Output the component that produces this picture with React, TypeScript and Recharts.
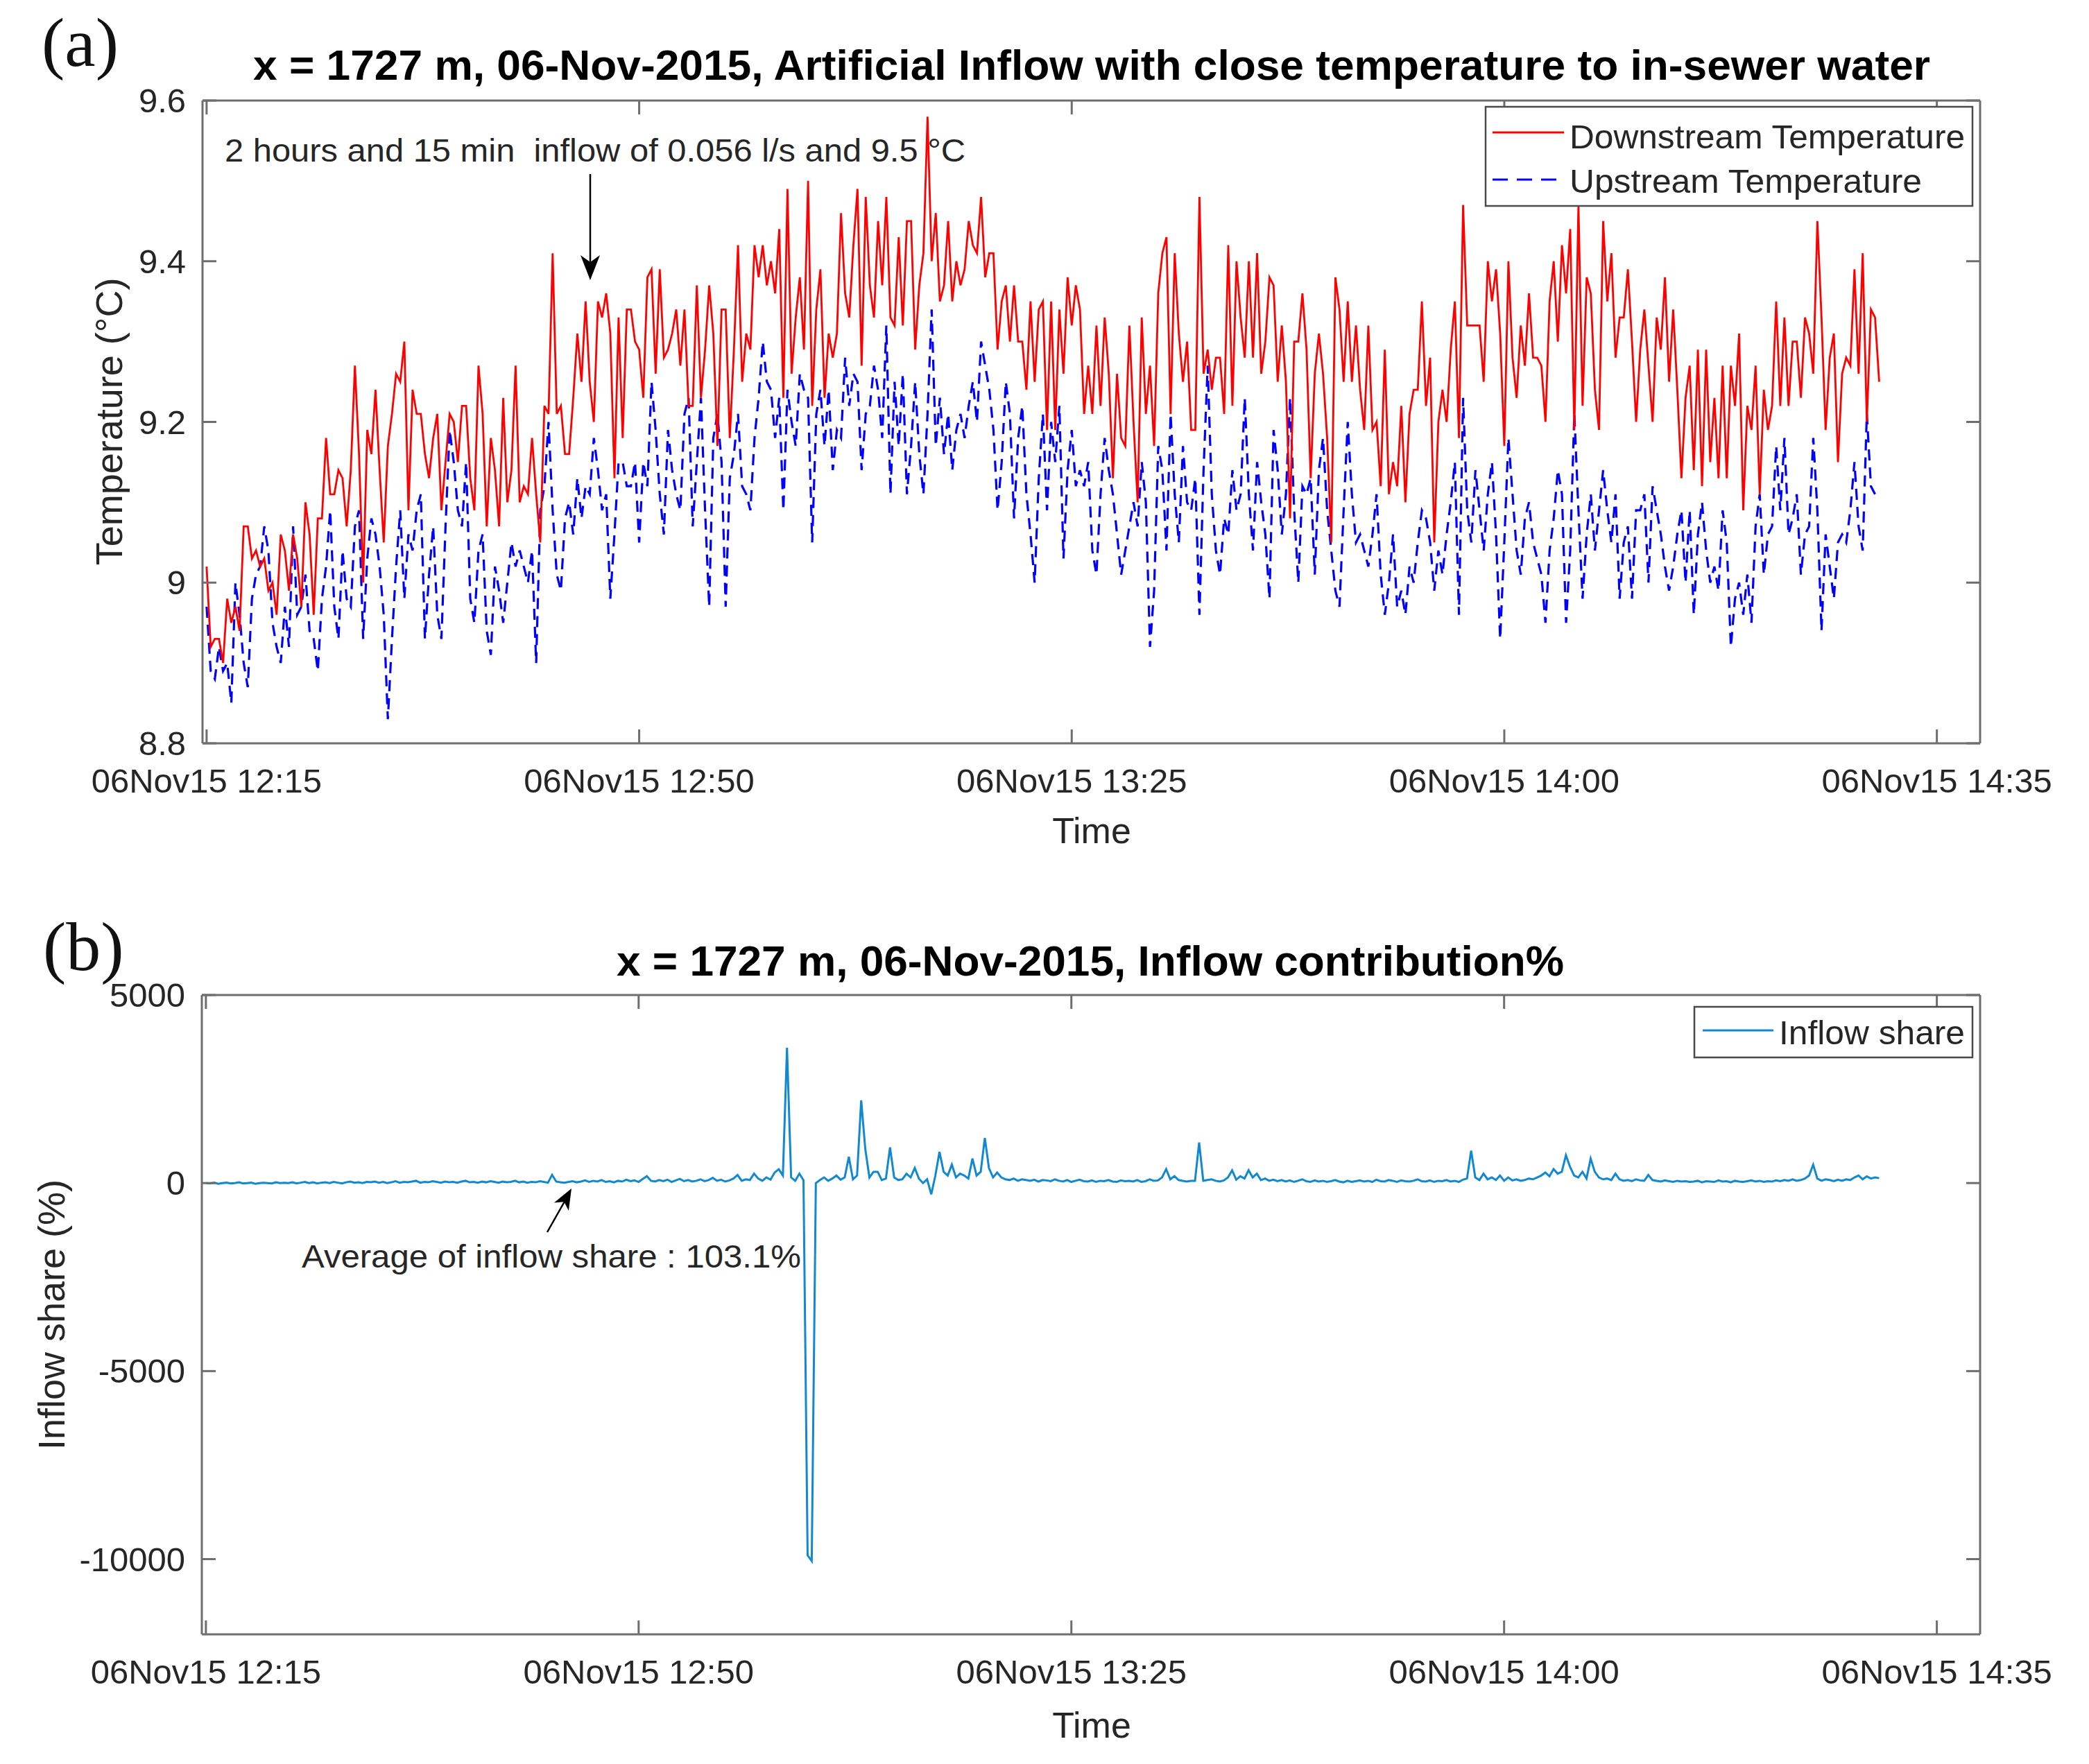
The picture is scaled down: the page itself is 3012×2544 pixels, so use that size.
import React from 'react';
import { LineChart, Line, XAxis, YAxis } from 'recharts';

// ---------- axis ticks / labels ----------
const timeTicks = [0, 35, 70, 105, 140]; // minutes after 12:15
const timeTickLabels = ['06Nov15 12:15', '06Nov15 12:50', '06Nov15 13:25', '06Nov15 14:00', '06Nov15 14:35'];
const timeDomain: [number, number] = [-0.33, 143.5];
const sampleStepMin = 1 / 3; // one sample every 20 s

const tempTicks = [8.8, 9, 9.2, 9.4, 9.6];
const tempTickLabels = ['8.8', '9', '9.2', '9.4', '9.6'];
const tempDomain: [number, number] = [8.8, 9.6];

const shareTicks = [-10000, -5000, 0, 5000];
const shareTickLabels = ['-10000', '-5000', '0', '5000'];
const shareDomain: [number, number] = [-12000, 5000];

// ---------- Downstream temperature (°C), 20 s samples ----------
const downstream1215 = [
  9.02, 8.92, 8.93, 8.93, 8.90, 8.98, 8.95, 8.97, 8.94, 9.07,
  9.07, 9.03, 9.04, 9.02, 9.03, 8.99, 9.00, 8.96, 9.06, 9.04,
  8.99, 9.06, 9.03, 8.97, 9.10, 9.06, 8.96, 9.08, 9.08, 9.18,
  9.11, 9.11, 9.14, 9.13, 9.07, 9.14, 9.27, 9.16, 9.00, 9.19,
  9.16, 9.24, 9.14, 9.05, 9.17, 9.21, 9.26, 9.25, 9.30, 9.09,
  9.24, 9.21, 9.21, 9.16, 9.13, 9.18, 9.21, 9.09, 9.15, 9.21,
  9.20, 9.15, 9.22, 9.22, 9.13, 9.09, 9.27, 9.21, 9.07, 9.18,
  9.14, 9.07, 9.23, 9.10, 9.14, 9.27, 9.10, 9.12, 9.11, 9.18,
  9.11, 9.05, 9.22, 9.21, 9.41, 9.21, 9.22, 9.16, 9.16, 9.23,
  9.31, 9.25, 9.35, 9.25, 9.20, 9.35, 9.33, 9.36, 9.31, 9.13,
  9.33, 9.18, 9.34,
];
const downstream1249 = [
  9.34, 9.30, 9.29, 9.23, 9.38, 9.39, 9.26, 9.39, 9.28, 9.29,
  9.31, 9.34, 9.27, 9.34, 9.22, 9.22, 9.37, 9.23, 9.29, 9.37,
  9.31, 9.17, 9.34, 9.34, 9.18, 9.29, 9.42, 9.25, 9.31, 9.29,
  9.42, 9.38, 9.42, 9.37, 9.40, 9.36, 9.44, 9.23, 9.49, 9.26,
  9.33, 9.38, 9.29, 9.50, 9.22, 9.34, 9.39, 9.23, 9.31, 9.28,
  9.31, 9.46, 9.36, 9.33, 9.42, 9.49, 9.27, 9.48, 9.37, 9.33,
  9.45, 9.37, 9.48, 9.33, 9.32, 9.43, 9.32, 9.45, 9.45, 9.29,
  9.37, 9.41, 9.58, 9.40, 9.46, 9.35, 9.37, 9.45, 9.35, 9.40,
  9.37, 9.39, 9.45, 9.42, 9.41, 9.48, 9.38, 9.41, 9.41, 9.29,
  9.35, 9.37, 9.30, 9.37, 9.30, 9.30, 9.24, 9.35, 9.25, 9.34,
  9.35, 9.19,
];
const downstream1323 = [
  9.35, 9.19, 9.34, 9.26, 9.38, 9.32, 9.37, 9.34, 9.21, 9.27,
  9.21, 9.32, 9.22, 9.33, 9.26, 9.13, 9.26, 9.18, 9.17, 9.32,
  9.20, 9.10, 9.33, 9.21, 9.27, 9.17, 9.36, 9.41, 9.43, 9.21,
  9.41, 9.31, 9.25, 9.30, 9.19, 9.19, 9.48, 9.26, 9.29, 9.24,
  9.28, 9.28, 9.21, 9.42, 9.22, 9.40, 9.33, 9.28, 9.40, 9.28,
  9.41, 9.26, 9.30, 9.38, 9.37, 9.25, 9.32, 9.25, 9.08, 9.30,
  9.30, 9.36, 9.29, 9.13, 9.26, 9.31, 9.26, 9.18, 9.05, 9.38,
  9.34, 9.25, 9.35, 9.25, 9.32, 9.24, 9.19, 9.32, 9.19, 9.20,
  9.12, 9.29, 9.11, 9.15, 9.12, 9.22, 9.10, 9.21, 9.24, 9.24,
  9.35, 9.22, 9.28, 9.05, 9.20, 9.24, 9.20, 9.29, 9.35, 9.18,
  9.47, 9.32, 9.32,
];
const downstream1357 = [
  9.32, 9.32, 9.25, 9.40, 9.35, 9.39, 9.31, 9.17, 9.40, 9.28,
  9.23, 9.32, 9.27, 9.36, 9.28, 9.28, 9.27, 9.20, 9.35, 9.40,
  9.30, 9.42, 9.36, 9.44, 9.19, 9.47, 9.22, 9.38, 9.36, 9.24,
  9.19, 9.45, 9.35, 9.41, 9.28, 9.33, 9.33, 9.39, 9.30, 9.20,
  9.29, 9.34, 9.27, 9.20, 9.33, 9.29, 9.38, 9.25, 9.34, 9.24,
  9.13, 9.23, 9.27, 9.14, 9.29, 9.12, 9.29, 9.15, 9.23, 9.13,
  9.27, 9.13, 9.27, 9.22, 9.31, 9.09, 9.22, 9.19, 9.27, 9.11,
  9.24, 9.19, 9.22, 9.35, 9.22, 9.33, 9.22, 9.30, 9.30, 9.23,
  9.33, 9.31, 9.26, 9.45, 9.33, 9.19, 9.28, 9.31, 9.15, 9.26,
  9.28, 9.27, 9.39, 9.26, 9.41, 9.20, 9.34, 9.33, 9.25,
];

// ---------- Upstream temperature (°C), 20 s samples ----------
const upstream1215 = [
  8.97, 8.89, 8.88, 8.92, 8.89, 8.90, 8.85, 9.00, 8.96, 8.90,
  8.87, 8.98, 9.01, 9.02, 9.07, 9.04, 8.95, 8.92, 8.90, 8.97,
  8.92, 9.07, 8.96, 8.97, 9.01, 8.94, 8.93, 8.89, 8.98, 9.02,
  9.09, 8.97, 8.93, 9.04, 8.98, 8.97, 9.07, 9.09, 8.93, 9.03,
  9.08, 9.06, 9.02, 8.96, 8.83, 8.93, 9.02, 9.09, 8.98, 9.06,
  9.04, 9.09, 9.11, 8.93, 9.01, 9.07, 8.96, 8.93, 9.07, 9.19,
  9.15, 9.09, 9.07, 9.15, 8.98, 8.95, 9.04, 9.06, 8.94, 8.91,
  9.02, 8.99, 8.95, 9.00, 9.05, 9.02, 9.04, 9.02, 9.00, 9.04,
  8.90, 9.09, 9.12, 9.20, 9.09, 9.01, 8.99, 9.08, 9.10, 9.06,
  9.13, 9.08, 9.12, 9.11, 9.18, 9.14, 9.09, 9.11, 8.98, 9.06,
  9.15, 9.15, 9.12,
];
const upstream1249 = [
  9.12, 9.15, 9.05, 9.15, 9.12, 9.25, 9.19, 9.11, 9.06, 9.19,
  9.14, 9.11, 9.09, 9.21, 9.23, 9.07, 9.15, 9.23, 9.09, 8.97,
  9.18, 9.21, 9.15, 8.97, 9.13, 9.16, 9.21, 9.12, 9.11, 9.09,
  9.18, 9.23, 9.30, 9.25, 9.24, 9.18, 9.23, 9.09, 9.24, 9.20,
  9.17, 9.26, 9.24, 9.23, 9.05, 9.21, 9.24, 9.17, 9.24, 9.14,
  9.19, 9.18, 9.28, 9.22, 9.26, 9.25, 9.14, 9.21, 9.22, 9.27,
  9.24, 9.18, 9.32, 9.11, 9.25, 9.17, 9.26, 9.11, 9.17, 9.25,
  9.16, 9.11, 9.21, 9.34, 9.17, 9.23, 9.16, 9.21, 9.14, 9.19,
  9.21, 9.18, 9.22, 9.25, 9.20, 9.30, 9.27, 9.24, 9.19, 9.09,
  9.15, 9.25, 9.21, 9.08, 9.18, 9.22, 9.11, 9.06, 9.00, 9.13,
  9.21, 9.09,
];
const upstream1323 = [
  9.20, 9.15, 9.22, 9.03, 9.14, 9.19, 9.12, 9.14, 9.12, 9.15,
  9.04, 9.01, 9.11, 9.18, 9.14, 9.11, 9.06, 9.01, 9.04, 9.07,
  9.10, 9.07, 9.15, 9.10, 8.92, 8.99, 9.17, 9.14, 9.04, 9.21,
  9.11, 9.05, 9.17, 9.10, 9.09, 9.13, 8.96, 9.14, 9.27, 9.11,
  9.04, 9.01, 9.08, 9.06, 9.14, 9.09, 9.11, 9.23, 9.11, 9.04,
  9.15, 9.10, 9.06, 8.98, 9.19, 9.14, 9.06, 9.11, 9.23, 9.09,
  9.00, 9.12, 9.11, 9.13, 9.01, 9.14, 9.18, 9.09, 9.04, 8.99,
  8.97, 9.09, 9.20, 9.11, 9.05, 9.06, 9.04, 9.02, 9.06, 9.11,
  9.01, 8.96, 9.00, 9.06, 8.97, 8.99, 8.96, 9.02, 9.00, 9.05,
  9.09, 9.08, 9.05, 8.99, 9.04, 9.01, 9.06, 9.10, 9.15, 8.96,
  9.23, 9.09, 9.05,
];
const upstream1357 = [
  9.14, 9.09, 9.04, 9.11, 9.15, 9.06, 8.93, 9.05, 9.18, 9.11,
  9.04, 9.01, 9.08, 9.10, 9.05, 9.03, 9.01, 8.95, 9.04, 9.08,
  9.14, 9.11, 8.95, 9.04, 9.21, 9.09, 8.98, 9.06, 9.11, 9.04,
  9.09, 9.14, 9.09, 9.05, 9.11, 8.98, 9.05, 9.07, 8.98, 9.09,
  9.09, 9.11, 9.00, 9.12, 9.09, 9.06, 9.02, 8.99, 9.02, 9.06,
  9.09, 9.00, 9.09, 8.96, 9.06, 9.10, 9.04, 9.00, 9.02, 8.99,
  9.09, 9.05, 8.92, 8.98, 9.00, 8.96, 9.01, 8.95, 9.07, 9.11,
  9.01, 9.06, 9.07, 9.17, 9.09, 9.18, 9.06, 9.08, 9.11, 9.01,
  9.06, 9.07, 9.18, 9.09, 8.94, 9.06, 9.02, 8.98, 9.05, 9.06,
  9.05, 9.09, 9.15, 9.07, 9.04, 9.21, 9.12, 9.11,
];

// ---------- Inflow share (%), 20 s samples ----------
const inflowShare1215 = [
  0, -10, 10, -20, 0, 10, -10, 0, 20, -10, 0, 10, -20, 0, 10, 0, -10, 20, 0, 10,
  0, 20, -10, 10, 30, 0, 20, -10, 10, 20, 0, 30, 10, -10, 20, 40, 10, 20, 0, 30,
  20, 40, 10, 30, 0, 20, 50, 10, 30, 20, 40, 60, 10, 30, 20, 50, 30, 10, 40, 20,
  30, 10, 40, 60, 20, 30, 10, 40, 20, 50, 30, 10, 40, 20, 30, 60, 20, 40, 10, 30,
  20, 50, 30, 10, 220, 40, 20, 10, 30, 50, 20, 40, 70, 30, 60, 40, 80, 30, 50, 20,
];
const inflowShare1248 = [
  60, 40, 90, 50, 70, 30, 110, 185, 60, 40, 80, 50, 90, 30, 70, 110, 50, 80, 40, 60,
  100, 50, 80, 140, 60, 90, 40, 70, 120, 215, 60, 100, 80, 250, 120, 60, 150, 90, 280, 370,
  200, 3600, 150, 60, 250, 80, -9900, -10050, 0, 80, 150, 60, 120, 200, 90, 150, 700, 100, 200, 2200,
  900, 150, 300, 300, 80, 120, 950, 150, 80, 100, 250, 150, 400, 120, 0, 100, -300, 200, 830, 300,
  200, 490, 150, 250, 200, 120, 650, 200, 300, 1200, 400, 150, 280, 150, 100, 80, 120, 60, 100, 80,
];
const inflowShare1321 = [
  60, 90, 40, 80, 70, 50, 100, 60, 40, 80, 30, 60, 90, 50, 40, 70, 30, 60, 50, 80,
  40, 30, 70, 50, 60, 40, 80, 30, 50, 100, 60, 70, 150, 370, 100, 185, 80, 60, 40, 60,
  60, 1080, 60, 80, 100, 60, 40, 70, 150, 340, 90, 180, 120, 340, 150, 250, 80, 120, 60, 90,
  50, 80, 40, 70, 30, 60, 100, 50, 30, 70, 40, 60, 30, 50, 80, 40, 20, 60, 30, 50,
  70, 40, 60, 30, 90, 50, 40, 80, 60, 30, 70, 50, 40, 60, 100, 50, 40, 70, 30, 60,
];
const inflowShare1355 = [
  50, 80, 40, 60, 30, 90, 120, 860, 150, 80, 250, 100, 150, 80, 200, 60, 150, 70, 100, 60,
  80, 120, 100, 150, 200, 280, 180, 370, 250, 300, 740, 430, 200, 150, 300, 120, 650, 300, 150, 100,
  120, 80, 250, 100, 60, 80, 50, 100, 70, 60, 215, 80, 60, 40, 70, 50, 30, 60, 40, 50,
  30, 40, 60, 20, 50, 40, 30, 70, 40, 50, 20, 60, 40, 30, 50, 70, 40, 60, 30, 50,
  40, 70, 50, 80, 60, 100, 60, 80, 120, 200, 490, 120, 60, 100, 80, 50, 90, 60, 100, 80,
  150, 200, 100, 180, 120, 150, 130,
];

const downstreamTemp = [...downstream1215, ...downstream1249, ...downstream1323, ...downstream1357];
const upstreamTemp = [...upstream1215, ...upstream1249, ...upstream1323, ...upstream1357];
const inflowShare = [...inflowShare1215, ...inflowShare1248, ...inflowShare1321, ...inflowShare1355];

const rows = downstreamTemp.map((d, i) => ({
  t: i * sampleStepMin,
  down: d,
  up: i < upstreamTemp.length ? upstreamTemp[i] : null,
  share: i < inflowShare.length ? inflowShare[i] : null,
}));

// ---------- styling ----------
const FONT = '"Liberation Sans", Arial, Helvetica, sans-serif';
const SERIF = '"Liberation Serif", "Times New Roman", serif';
const AXIS_COLOR = '#6e6e6e';
const TEXT_COLOR = '#262626';
const TICK_LEN = 20;
const TICK_FONT = 49;
const SHARE_COLOR = '#1188d0';

const findIdx = (arr: number[], v: number) => arr.findIndex((a) => Math.abs(a - v) < 1e-9);

const BottomTick = (props: any) => {
  const { x, y, payload } = props;
  const i = findIdx(timeTicks, payload.value);
  return (
    <g>
      <line x1={x} y1={y} x2={x} y2={y - TICK_LEN} stroke={AXIS_COLOR} strokeWidth={3} />
      <text x={x} y={y + 71} textAnchor="middle" fontSize={TICK_FONT} fontFamily={FONT} fill={TEXT_COLOR}>
        {timeTickLabels[i]}
      </text>
    </g>
  );
};
const TopTick = (props: any) => {
  const { x, y } = props;
  return <line x1={x} y1={y} x2={x} y2={y + TICK_LEN} stroke={AXIS_COLOR} strokeWidth={3} />;
};
const makeLeftTick = (ticks: number[], labels: string[]) => (props: any) => {
  const { x, y, payload } = props;
  const i = findIdx(ticks, payload.value);
  return (
    <g>
      <line x1={x} y1={y} x2={x + TICK_LEN} y2={y} stroke={AXIS_COLOR} strokeWidth={3} />
      <text x={x - 24} y={y + 17} textAnchor="end" fontSize={TICK_FONT} fontFamily={FONT} fill={TEXT_COLOR}>
        {labels[i]}
      </text>
    </g>
  );
};
const RightTick = (props: any) => {
  const { x, y } = props;
  return <line x1={x} y1={y} x2={x - TICK_LEN} y2={y} stroke={AXIS_COLOR} strokeWidth={3} />;
};

const axisLineStyle = { stroke: AXIS_COLOR, strokeWidth: 3 };
const TempLeftTick = makeLeftTick(tempTicks, tempTickLabels);
const ShareLeftTick = makeLeftTick(shareTicks, shareTickLabels);

export default function App() {
  return (
    <div style={{ position: 'absolute', left: 0, top: 0, width: 3012, height: 2544, background: '#ffffff', overflow: 'hidden' }}>
      {/* Panel (a) */}
      <div style={{ position: 'absolute', left: 0, top: 0 }}>
        <LineChart width={3012} height={1300} data={rows} margin={{ top: 144, right: 156, bottom: 128, left: 0 }}>
          <XAxis
            dataKey="t" type="number" domain={timeDomain} ticks={timeTicks} interval={0} allowDataOverflow
            height={100} tickSize={0} tickMargin={0} tickLine={false} axisLine={axisLineStyle} tick={BottomTick}
          />
          <XAxis
            xAxisId="top" orientation="top" dataKey="t" type="number" domain={timeDomain} ticks={timeTicks} interval={0}
            allowDataOverflow height={1} tickSize={0} tickMargin={0} tickLine={false} axisLine={axisLineStyle} tick={TopTick}
          />
          <YAxis
            type="number" domain={tempDomain} ticks={tempTicks} interval={0} allowDataOverflow width={292}
            tickSize={0} tickMargin={0} tickLine={false} axisLine={axisLineStyle} tick={TempLeftTick}
          />
          <YAxis
            yAxisId="right" orientation="right" type="number" domain={tempDomain} ticks={tempTicks} interval={0}
            allowDataOverflow width={1} tickSize={0} tickMargin={0} tickLine={false} axisLine={axisLineStyle} tick={RightTick}
          />
          <Line xAxisId="top" yAxisId="right" type="linear" dataKey="down" stroke="none" dot={false} activeDot={false} isAnimationActive={false} legendType="none" />
          <Line type="linear" dataKey="up" stroke="#0000ff" strokeWidth={3.2} strokeDasharray="16 10" dot={false} activeDot={false} isAnimationActive={false} connectNulls={false} />
          <Line type="linear" dataKey="down" stroke="#ff0000" strokeWidth={2.8} dot={false} activeDot={false} isAnimationActive={false} />
        </LineChart>
      </div>

      {/* Panel (b) */}
      <div style={{ position: 'absolute', left: 0, top: 1300 }}>
        <LineChart width={3012} height={1244} data={rows} margin={{ top: 134, right: 156, bottom: 87, left: 0 }}>
          <XAxis
            dataKey="t" type="number" domain={timeDomain} ticks={timeTicks} interval={0} allowDataOverflow
            height={100} tickSize={0} tickMargin={0} tickLine={false} axisLine={axisLineStyle} tick={BottomTick}
          />
          <XAxis
            xAxisId="top" orientation="top" dataKey="t" type="number" domain={timeDomain} ticks={timeTicks} interval={0}
            allowDataOverflow height={1} tickSize={0} tickMargin={0} tickLine={false} axisLine={axisLineStyle} tick={TopTick}
          />
          <YAxis
            type="number" domain={shareDomain} ticks={shareTicks} interval={0} allowDataOverflow width={291}
            tickSize={0} tickMargin={0} tickLine={false} axisLine={axisLineStyle} tick={ShareLeftTick}
          />
          <YAxis
            yAxisId="right" orientation="right" type="number" domain={shareDomain} ticks={shareTicks} interval={0}
            allowDataOverflow width={1} tickSize={0} tickMargin={0} tickLine={false} axisLine={axisLineStyle} tick={RightTick}
          />
          <Line xAxisId="top" yAxisId="right" type="linear" dataKey="share" stroke="none" dot={false} activeDot={false} isAnimationActive={false} legendType="none" />
          <Line type="linear" dataKey="share" stroke={SHARE_COLOR} strokeWidth={3} dot={false} activeDot={false} isAnimationActive={false} />
        </LineChart>
      </div>

      {/* Text, legends and annotations */}
      <svg width={3012} height={2544} style={{ position: 'absolute', left: 0, top: 0, pointerEvents: 'none' }}>
        {/* panel letters */}
        <text x={60} y={95} fontSize={100} fontFamily={SERIF} fill="#111">(a)</text>
        <text x={62} y={1399} fontSize={100} fontFamily={SERIF} fill="#111">(b)</text>

        {/* titles */}
        <text x={1574} y={115} textAnchor="middle" fontSize={62} fontWeight="bold" fontFamily={FONT} fill="#000" textLength={2418} lengthAdjust="spacingAndGlyphs">
          x = 1727 m, 06-Nov-2015, Artificial Inflow with close temperature to in-sewer water
        </text>
        <text x={1572} y={1407} textAnchor="middle" fontSize={62} fontWeight="bold" fontFamily={FONT} fill="#000" textLength={1366} lengthAdjust="spacingAndGlyphs">
          x = 1727 m, 06-Nov-2015, Inflow contribution%
        </text>

        {/* axis labels */}
        <text x={1574} y={1216} textAnchor="middle" fontSize={52} fontFamily={FONT} fill={TEXT_COLOR}>Time</text>
        <text x={1574} y={2506} textAnchor="middle" fontSize={52} fontFamily={FONT} fill={TEXT_COLOR}>Time</text>
        <text transform="translate(176,608) rotate(-90)" textAnchor="middle" fontSize={54} fontFamily={FONT} fill={TEXT_COLOR}>
          Temperature (°C)
        </text>
        <text transform="translate(93,1896) rotate(-90)" textAnchor="middle" fontSize={54} fontFamily={FONT} fill={TEXT_COLOR}>
          Inflow share (%)
        </text>

        {/* legend (a) */}
        <rect x={2142} y={154} width={702} height={143} fill="#ffffff" stroke="#4a4a4a" strokeWidth={2.5} />
        <line x1={2152} y1={191} x2={2255} y2={191} stroke="#ff0000" strokeWidth={2.8} />
        <text x={2263} y={214} fontSize={48} fontFamily={FONT} fill={TEXT_COLOR} textLength={570} lengthAdjust="spacingAndGlyphs">Downstream Temperature</text>
        <line x1={2152} y1={259} x2={2255} y2={259} stroke="#0000ff" strokeWidth={3.2} strokeDasharray="22 13" />
        <text x={2263} y={278} fontSize={48} fontFamily={FONT} fill={TEXT_COLOR} textLength={508} lengthAdjust="spacingAndGlyphs">Upstream Temperature</text>

        {/* legend (b) */}
        <rect x={2443} y={1452} width={401} height={73} fill="#ffffff" stroke="#4a4a4a" strokeWidth={2.5} />
        <line x1={2455} y1={1486} x2={2557} y2={1486} stroke={SHARE_COLOR} strokeWidth={3} />
        <text x={2565} y={1506} fontSize={48} fontFamily={FONT} fill={TEXT_COLOR} textLength={268} lengthAdjust="spacingAndGlyphs">Inflow share</text>

        {/* annotation (a) */}
        <text x={324} y={233} fontSize={46} fontFamily={FONT} fill={TEXT_COLOR} style={{ whiteSpace: 'pre' }} textLength={1068} lengthAdjust="spacingAndGlyphs">
          2 hours and 15 min  inflow of 0.056 l/s and 9.5 °C
        </text>
        <line x1={851} y1={251} x2={851} y2={380} stroke="#000" strokeWidth={2.5} />
        <polygon points="851,404 837,368 851,378 865,368" fill="#000" />

        {/* annotation (b) */}
        <text x={435} y={1828} fontSize={46} fontFamily={FONT} fill={TEXT_COLOR} textLength={720} lengthAdjust="spacingAndGlyphs">
          Average of inflow share : 103.1%
        </text>
        <line x1={789} y1={1777} x2={815} y2={1731} stroke="#000" strokeWidth={2.5} />
        <polygon points="824,1714 819.9,1746 813.3,1733.3 798.9,1734.4" fill="#000" />
      </svg>
    </div>
  );
}
